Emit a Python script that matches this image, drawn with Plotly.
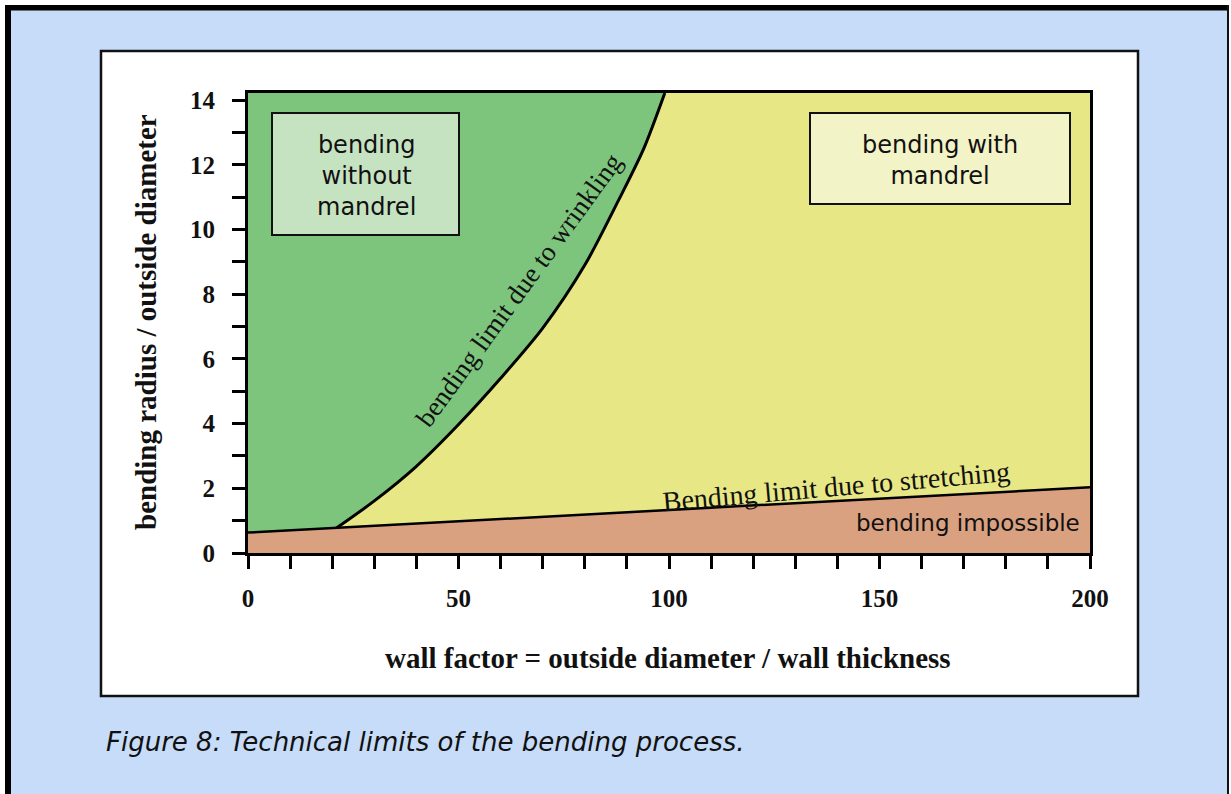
import plotly.graph_objects as go

# ---------------- data ----------------
stretch_x = [0, 50, 100, 150, 200]
stretch_y = [0.63, 0.98, 1.33, 1.68, 2.03]

wrinkle_x = [21, 30, 40, 50, 60, 70, 80, 88, 94, 99]
wrinkle_y = [0.77, 1.61, 2.68, 3.97, 5.4, 6.95, 8.9, 10.9, 12.5, 14.22]

x_tick_vals = [0, 50, 100, 150, 200]
y_tick_vals = [0, 2, 4, 6, 8, 10, 12, 14]
X_RANGE = [0, 200]
Y_RANGE = [0, 14.22]

region_labels = {
    "without": "bending<br>without<br>mandrel",
    "with": "bending with<br>mandrel",
    "impossible": "bending impossible",
}
line_labels = {
    "stretch": "Bending limit due to stretching",
    "wrinkle": "bending limit due to wrinkling",
}
x_title = "wall factor = outside diameter / wall thickness"
y_title = "bending radius / outside diameter"
caption = "Figure 8: Technical limits of the bending process."

# ---------------- page geometry ----------------
W, H = 1231, 794
L, R, T, B = 248, 1090, 93, 553  # plot area in pixels


def px(x):
    return (x - L) / (R - L)


def py(y):
    return (B - y) / (B - T)


GREEN = "#7dc57d"
YELLOW = "#e8e785"
SALMON = "#d9a180"
BLUE = "#c6dcf9"

fig = go.Figure()

# bending impossible (below stretching limit)
fig.add_trace(go.Scatter(x=stretch_x, y=stretch_y, fill="tozeroy", mode="none",
                         fillcolor=SALMON, hoverinfo="skip", showlegend=False))

# bending without mandrel (left of wrinkling limit)
gx = [sx for sx in stretch_x if sx < wrinkle_x[0]] + wrinkle_x + [X_RANGE[0]]
gy = [sy for sx, sy in zip(stretch_x, stretch_y) if sx < wrinkle_x[0]] + wrinkle_y + [Y_RANGE[1]]
fig.add_trace(go.Scatter(x=gx, y=gy, fill="toself", mode="none", fillcolor=GREEN,
                         hoverinfo="skip", showlegend=False))

# bending with mandrel (right of wrinkling limit, above stretching limit)
yx = [wrinkle_x[0]] + [sx for sx in stretch_x if sx > wrinkle_x[0]] + [X_RANGE[1]] + wrinkle_x[::-1]
yy = [wrinkle_y[0]] + [sy for sx, sy in zip(stretch_x, stretch_y) if sx > wrinkle_x[0]] + [Y_RANGE[1]] + wrinkle_y[::-1]
fig.add_trace(go.Scatter(x=yx, y=yy, fill="toself", mode="none", fillcolor=YELLOW,
                         hoverinfo="skip", showlegend=False))

# limit lines
fig.add_trace(go.Scatter(x=stretch_x, y=stretch_y, mode="lines",
                         line=dict(color="black", width=2.5), hoverinfo="skip", showlegend=False))
fig.add_trace(go.Scatter(x=wrinkle_x, y=wrinkle_y, mode="lines",
                         line=dict(color="black", width=3, shape="spline", smoothing=0.8),
                         hoverinfo="skip", showlegend=False))

shapes = []
# page background
shapes.append(dict(type="rect", xref="paper", yref="paper", x0=px(5), x1=px(1229), y0=py(5), y1=py(800),
                   fillcolor=BLUE, line=dict(width=0), layer="below"))
shapes.append(dict(type="rect", xref="paper", yref="paper", x0=px(5), x1=px(1229), y0=py(5), y1=py(10.5),
                   fillcolor="black", line=dict(width=0), layer="below"))
shapes.append(dict(type="rect", xref="paper", yref="paper", x0=px(5), x1=px(11), y0=py(5), y1=py(800),
                   fillcolor="black", line=dict(width=0), layer="below"))
shapes.append(dict(type="rect", xref="paper", yref="paper", x0=px(1227), x1=px(1229), y0=py(5), y1=py(800),
                   fillcolor="#111111", line=dict(width=0), layer="below"))
# white figure frame
shapes.append(dict(type="rect", xref="paper", yref="paper", x0=px(101), x1=px(1138), y0=py(51), y1=py(696),
                   fillcolor="white", line=dict(color="#111111", width=2.5), layer="below"))
# label boxes
shapes.append(dict(type="rect", xref="paper", yref="paper", x0=px(272), x1=px(459), y0=py(113), y1=py(235),
                   fillcolor="#c6e3c1", line=dict(color="#111111", width=2), layer="above"))
shapes.append(dict(type="rect", xref="paper", yref="paper", x0=px(810), x1=px(1070), y0=py(113), y1=py(204),
                   fillcolor="#f3f3c8", line=dict(color="#111111", width=2), layer="above"))

SANS = "DejaVu Sans"
SERIF = "Liberation Serif"
INK = "#111111"


def label(text, x, y, family, size, angle=0, xanchor="center", **kw):
    return dict(text=text, xref="paper", yref="paper", x=px(x), y=py(y), xanchor=xanchor,
                yanchor="middle", textangle=angle, showarrow=False,
                font=dict(family=family, size=size, color=INK), **kw)


annotations = [
    label(region_labels["without"], 366, 176, SANS, 24, align="center"),
    label(region_labels["with"], 940, 160, SANS, 24, align="center"),
    label(region_labels["impossible"], 1082, 523, SANS, 23, xanchor="right"),
    label(line_labels["stretch"], 836, 486, SERIF, 28, angle=-5),
    label(line_labels["wrinkle"], 519, 290, SERIF, 27, angle=-54),
    label("<b>" + x_title + "</b>", 668, 658, SERIF, 29),
    label("<b>" + y_title + "</b>", 146, 322, SERIF, 29, angle=-90),
    label("<i>" + caption + "</i>", 104, 742, SANS, 26, xanchor="left"),
]

axis_common = dict(showgrid=False, zeroline=False, showline=True, linecolor="black", linewidth=3,
                   mirror=True, ticks="outside", ticklen=13, tickwidth=2.5, tickcolor="black",
                   tickfont=dict(family=SERIF, size=25, color=INK, weight="bold"),
                   fixedrange=True)

fig.update_xaxes(range=X_RANGE, tickvals=x_tick_vals, ticklabelstandoff=8,
                 minor=dict(dtick=10, ticks="outside", ticklen=13, tickwidth=2.5, tickcolor="black"),
                 **axis_common)
fig.update_yaxes(range=Y_RANGE, tickvals=y_tick_vals, ticklabelstandoff=12,
                 minor=dict(dtick=1, ticks="outside", ticklen=13, tickwidth=2.5, tickcolor="black"),
                 **axis_common)

fig.update_layout(width=W, height=H, autosize=False,
                  margin=dict(l=L, r=W - R, t=T, b=H - B, pad=0),
                  paper_bgcolor="white", plot_bgcolor="white",
                  shapes=shapes, annotations=annotations, showlegend=False)

fig.write_html("out.html", config={"displayModeBar": False},
               post_script="document.body.style.margin='0';document.body.style.overflow='hidden';")
